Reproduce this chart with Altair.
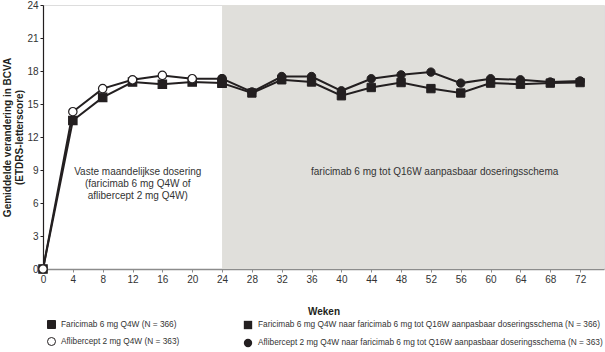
import altair as alt
import pandas as pd

weeks_pre = [0, 4, 8, 12, 16, 20, 24]
fari_pre = [0, 13.5, 15.6, 17.0, 16.8, 17.0, 16.9]
afli_pre = [0, 14.3, 16.4, 17.2, 17.6, 17.3, 17.3]

weeks_post = [24, 28, 32, 36, 40, 44, 48, 52, 56, 60, 64, 68, 72]
fari_post = [16.9, 16.0, 17.2, 17.0, 15.75, 16.5, 16.95, 16.4, 16.0, 16.9, 16.8, 16.9, 16.95]
afli_post = [17.3, 16.1, 17.5, 17.5, 16.2, 17.3, 17.65, 17.9, 16.9, 17.3, 17.2, 17.0, 17.1]

leg_pre = ["Faricimab 6 mg Q4W (N = 366)", "Aflibercept 2 mg Q4W (N = 363)"]
leg_post = [
    "Faricimab 6 mg Q4W naar faricimab 6 mg tot Q16W aanpasbaar doseringsschema (N = 366)",
    "Aflibercept 2 mg Q4W naar faricimab 6 mg tot Q16W aanpasbaar doseringsschema (N = 363)",
]

x_ticks = list(range(0, 73, 4))
y_ticks = list(range(0, 25, 3))
x_max = 75.2
shade_start = 24

text_left = "Vaste maandelijkse dosering\n(faricimab 6 mg Q4W of\naflibercept 2 mg Q4W)"
text_right = "faricimab 6 mg tot Q16W aanpasbaar doseringsschema"

INK = "#231f20"
FONT = "Liberation Sans"

pre = pd.DataFrame({
    "week": weeks_pre * 2,
    "value": fari_pre + afli_pre,
    "series": [leg_pre[0]] * len(weeks_pre) + [leg_pre[1]] * len(weeks_pre),
})
post = pd.DataFrame({
    "week": weeks_post * 2,
    "value": fari_post + afli_post,
    "series": [leg_post[0]] * len(weeks_post) + [leg_post[1]] * len(weeks_post),
})
shade = pd.DataFrame({"x": [shade_start], "x2": [x_max], "y": [0], "y2": [24]})
notes = pd.DataFrame({"x": [12.7, 52.5], "y": [8.8, 8.8], "label": [text_left, text_right]})

xscale = alt.Scale(domain=[0, x_max], nice=False, zero=True)
yscale = alt.Scale(domain=[0, 24], nice=False)

xaxis = alt.Axis(values=x_ticks, title="Weken", titleFontWeight="bold", titleFontSize=10,
                 titleColor=INK, titlePadding=22, labelFontSize=10, labelColor="#333333",
                 domainColor="#8c8c8c", domainWidth=1.5, tickColor="#8c8c8c", tickSize=3,
                 labelPadding=2, grid=False, labelFlush=False, labelOverlap=False)
yaxis = alt.Axis(values=y_ticks, title=["Gemiddelde verandering in BCVA", "(ETDRS-letterscore)"],
                 titleFontWeight="bold", titleFontSize=10, titleColor=INK, titlePadding=2,
                 titleLineHeight=12, labelFontSize=10, labelColor="#333333", domainColor=INK,
                 domainWidth=1.2, tickColor=INK, tickSize=3, labelPadding=2, grid=False,
                 labelOverlap=False, labelFlush=False)

rect = alt.Chart(shade).mark_rect(color="#e0dfdb").encode(
    x=alt.X("x:Q", scale=xscale, axis=xaxis),
    x2="x2:Q",
    y=alt.Y("y:Q", scale=yscale, axis=yaxis),
    y2="y2:Q",
)

txt = alt.Chart(notes).mark_text(fontSize=10, color="#333333", lineBreak="\n", align="center",
                                 baseline="middle", lineHeight=12, font=FONT).encode(
    x=alt.X("x:Q", scale=xscale, axis=xaxis),
    y=alt.Y("y:Q", scale=yscale, axis=yaxis),
    text="label:N",
)

legend_common = dict(orient="none", title=None, labelFontSize=8.3, labelColor="#333333",
                     labelLimit=600, symbolStrokeWidth=1,
                     rowPadding=4, labelOffset=5, labelFont=FONT)

line_pre = alt.Chart(pre).mark_line(color=INK, strokeWidth=2).encode(
    x=alt.X("week:Q", scale=xscale, axis=xaxis),
    y=alt.Y("value:Q", scale=yscale, axis=yaxis),
    detail="series:N",
)
leg_a = alt.Legend(legendX=4, legendY=315, symbolSize=64, **legend_common)
pts_pre = alt.Chart(pre).mark_point(filled=True, size=70, strokeWidth=1.2, opacity=1).encode(
    x=alt.X("week:Q", scale=xscale, axis=xaxis),
    y=alt.Y("value:Q", scale=yscale, axis=yaxis),
    shape=alt.Shape("series:N", scale=alt.Scale(domain=leg_pre, range=["square", "circle"]), legend=leg_a),
    fill=alt.Fill("series:N", scale=alt.Scale(domain=leg_pre, range=[INK, "white"]), legend=leg_a),
    stroke=alt.Stroke("series:N", scale=alt.Scale(domain=leg_pre, range=[INK, INK]), legend=leg_a),
)

line_post = alt.Chart(post).mark_line(color=INK, strokeWidth=2).encode(
    x=alt.X("week:Q", scale=xscale, axis=xaxis),
    y=alt.Y("value:Q", scale=yscale, axis=yaxis),
    detail="series:N",
)
pts_post = alt.Chart(post).mark_point(filled=True, size=70, fill=INK, stroke=INK, strokeWidth=1, opacity=1).encode(
    x=alt.X("week:Q", scale=xscale, axis=xaxis),
    y=alt.Y("value:Q", scale=yscale, axis=yaxis),
    shape=alt.Shape("series:N", scale=alt.Scale(domain=leg_post, range=["square", "circle"]),
                    legend=alt.Legend(legendX=200, legendY=315, symbolSize=70,
                                      symbolFillColor=INK, symbolStrokeColor=INK, **legend_common)),
)

layer_pre = alt.layer(line_pre, pts_pre)
layer_post = alt.layer(line_post, pts_post)

chart = alt.layer(rect, txt, layer_pre, layer_post).resolve_scale(
    shape="independent", fill="independent", stroke="independent"
).resolve_legend(shape="independent", fill="independent", stroke="independent").properties(
    width=561, height=264,
    autosize=alt.AutoSizeParams(type="none"),
    padding={"left": 43, "top": 5, "right": 1, "bottom": 83},
).configure_view(strokeWidth=0).configure_axis(
    labelOverlap=False
).configure(
    font=FONT
)

chart.save("out.html", embed_options={"renderer": "svg", "actions": False})
